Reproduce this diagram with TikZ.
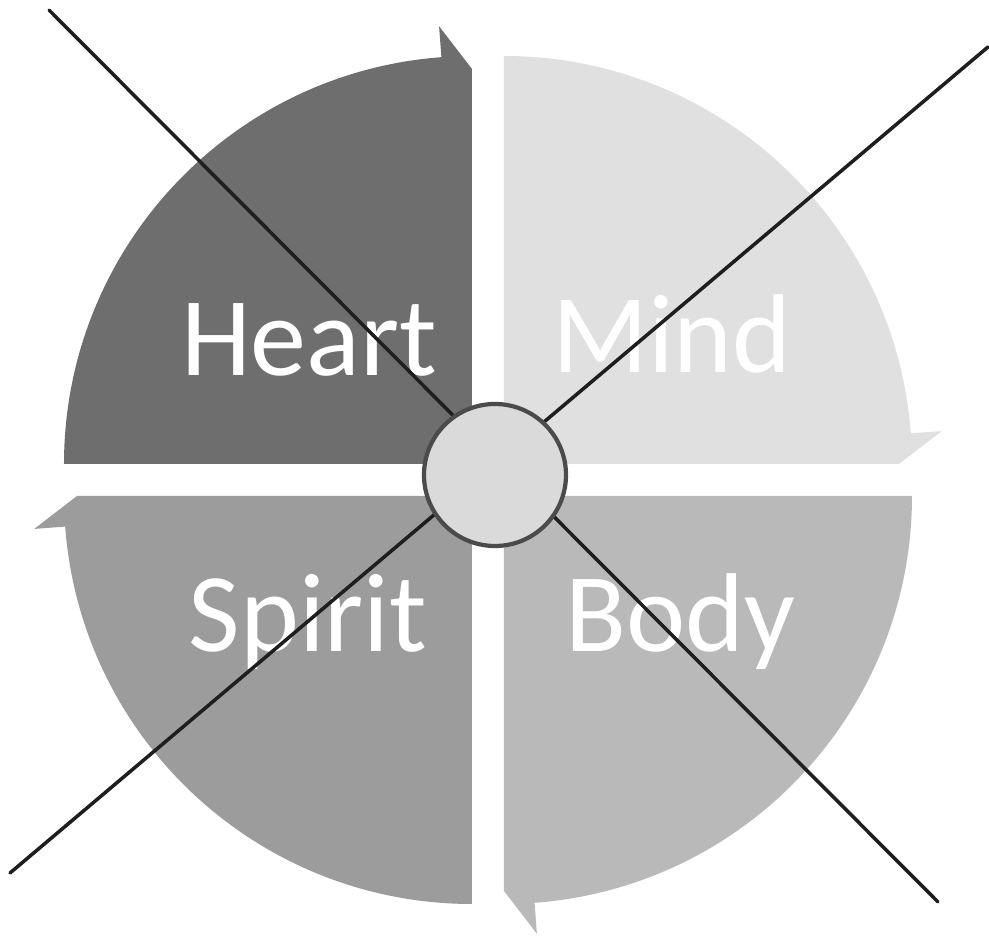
\documentclass[tikz,border=0pt]{standalone}
\usepackage{fontspec}
\setmainfont{Carlito}
\usetikzlibrary{calc}
\definecolor{HeartGrey}{HTML}{6E6E6E}
\definecolor{MindGrey}{HTML}{E0E0E0}
\definecolor{BodyGrey}{HTML}{B9B9B9}
\definecolor{SpiritGrey}{HTML}{9C9C9C}
\definecolor{HubGrey}{HTML}{DADADA}
\definecolor{Ink}{HTML}{1E1E1E}

\begin{document}
\begin{tikzpicture}[quadtext/.style={font=\fontsize{31.9}{38}\selectfont,text=white,anchor=base},cross/.style={line width=1pt,draw=Ink,line cap=round},hub/.style={circle,draw=Ink!80,line width=1.2pt,fill=HubGrey,minimum size=1.42cm,inner sep=0pt}]
\useasboundingbox (-4.88,-4.61) rectangle (5.01,4.80);
\fill[white] (-4.88,-4.61) rectangle (5.01,4.80);
\newcommand{\quarter}[2]{\begin{scope}[rotate=#1,shift={(-.16,.16)}]\fill[#2] (0,0) -- (180:4.08) arc[start angle=180,end angle=94.3,radius=4.08] -- (94.3:4.39) -- (90:3.95) -- cycle;\end{scope}}
\quarter{0}{HeartGrey}
\quarter{-90}{MindGrey}
\quarter{-180}{BodyGrey}
\quarter{-270}{SpiritGrey}
\node[quadtext] (heart) at (-1.79,1.04) {Heart};
\node[quadtext] (mind) at (1.84,1.07) {Mind};
\node[quadtext] (spirit) at (-1.80,-1.72) {Spirit};
\node[quadtext] (body) at (1.92,-1.72) {Body};
\coordinate (nw) at (-4.39,4.70);
\coordinate (se) at (4.50,-4.22);
\coordinate (sw) at (-4.78,-3.93);
\coordinate (ne) at (5.00,4.33);
\draw[cross] (nw) -- (se);
\draw[cross] (sw) -- (ne);
\node[hub] (core) at (0.07,0.05) {};
\end{tikzpicture}
\end{document}
